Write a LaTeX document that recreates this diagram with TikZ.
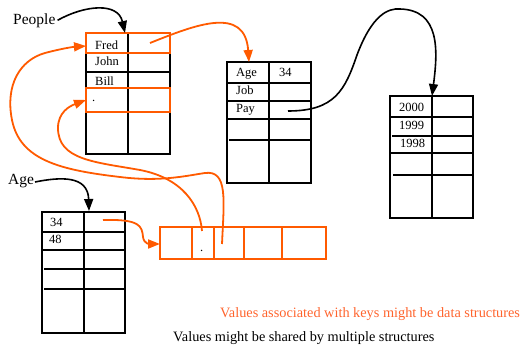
\documentclass[tikz,border=0pt]{standalone}
\usepackage{fontspec}
\setmainfont{Liberation Serif}
\usetikzlibrary{arrows.meta}
\definecolor{org}{RGB}{255,90,0}
\definecolor{orgtext}{RGB}{255,100,45}
\begin{document}
\begin{tikzpicture}[x=1pt,y=-1pt,
  tbl/.style={line width=2pt, black},
  hl/.style={line width=2.4pt, org},
  arr/.style={line width=2pt, org},
  cell/.style={inner sep=0pt, anchor=base west, font=\fontsize{12.5}{14}\selectfont},
  lbl/.style={inner sep=0pt, anchor=base west, font=\fontsize{15.5}{18}\selectfont},
  note/.style={inner sep=0pt, anchor=base west, font=\fontsize{14.3}{17}\selectfont},
  blk/.style={line width=1.6pt, black, -{Triangle[length=12pt,width=9pt]}},
  ora/.style={line width=1.8pt, org, -{Triangle[length=12pt,width=9pt]}},
  ]
\useasboundingbox (0,0) rectangle (523,347);

% People table
\draw[tbl] (86,33) rectangle (170,154);
\draw[tbl] (128,33) -- (128,154);
\foreach \y in {53,72,88,112} \draw[tbl] (86,\y) -- (170,\y);
\draw[hl] (86,33) rectangle (170,53);
\draw[hl] (86,88) rectangle (170,112);

% Age/Job/Pay table
\draw[tbl] (227,62) rectangle (311,183);
\draw[tbl] (269,62) -- (269,183);
\foreach \y in {83,101,119} \draw[tbl] (227,\y) -- (311,\y);
\draw[tbl] (229,140) -- (311,140);

% Year table
\draw[tbl] (390,96) rectangle (473,218);
\draw[tbl] (432,96) -- (432,218);
\foreach \y in {117,153} \draw[tbl] (390,\y) -- (473,\y);
\draw[tbl] (392,136) -- (473,136);
\draw[tbl] (393,175) -- (473,175);

% Age table (bottom left)
\draw[tbl] (42,212) rectangle (125,333);
\draw[tbl] (84,212) -- (84,333);
\foreach \y in {232,250} \draw[tbl] (42,\y) -- (125,\y);
\draw[tbl] (44,269) -- (125,269);
\draw[tbl] (44,289) -- (125,289);

% Orange array
\draw[arr] (160,227) rectangle (326,259);
\foreach \x in {192,214,244,282} \draw[arr] (\x,227) -- (\x,259);

% Texts
\node[lbl] (people) at (13,25) {People};
\node[lbl] (agelbl) at (8,185) {Age};
\node[cell] (fred) at (95,50) {Fred};
\node[cell] (john) at (95,66) {John};
\node[cell] (bill) at (95,86) {Bill};
\node[cell] (dot1) at (92,102) {.};
\node[cell] (age) at (236,77) {Age};
\node[cell] (v34) at (279,77) {34};
\node[cell] (job) at (236,95) {Job};
\node[cell] (pay) at (236,113) {Pay};
\node[cell] (y2000) at (399,112) {2000};
\node[cell] (y1999) at (399,130) {1999};
\node[cell] (y1998) at (400,148) {1998};
\node[cell] (k34) at (50,227) {34};
\node[cell] (k48) at (49,244) {48};
\node[cell] (dot2) at (200,252) {.};
\node[note, text=orgtext] (note1) at (220,318) {Values associated with keys might be data structures};
\node[note] (note2) at (173,342) {Values might be shared by multiple structures};

% Connector end points
\coordinate (peopleT) at (125,33);
\coordinate (fredV) at (150,43);
\coordinate (ageT) at (249,62);
\coordinate (payV) at (288,111);
\coordinate (yearT) at (432,96);
\coordinate (agelblS) at (35,182);
\coordinate (ageTblT) at (89,211);
\coordinate (k34V) at (103,220);
\coordinate (arrT) at (160,244);
\coordinate (c2) at (202,231);
\coordinate (c3) at (222,244);
\coordinate (fredT) at (86,46);
\coordinate (rowT) at (86,100);

% Black connectors
\draw[blk] (people.east) ++(2,-1) .. controls (85,5) and (118,2) .. (peopleT);
\draw[blk] (payV) .. controls (335,111) and (345,90) .. (357,55)
  .. controls (372,15) and (388,8) .. (400,9)
  .. controls (440,10) and (438,50) .. (yearT);
\draw[blk] (agelblS) .. controls (60,177) and (88,175) .. (ageTblT);

% Orange connectors
\draw[ora] (fredV) .. controls (195,25) and (245,5) .. (ageT);
\draw[ora] (k34V) .. controls (140,219) and (142,226) .. (143,237)
  .. controls (144,244) and (150,244) .. (arrT);
\draw[ora] (c2) .. controls (200,205) and (182,178) .. (140,170)
  .. controls (95,162) and (58,160) .. (58,128)
  .. controls (58,112) and (70,106) .. (rowT);
\draw[ora] (c3) .. controls (224,200) and (228,170) .. (205,173)
  .. controls (185,176) and (160,182) .. (120,177)
  .. controls (60,170) and (20,160) .. (12,120)
  .. controls (5,85) and (20,60) .. (45,53)
  .. controls (60,49) and (72,47) .. (fredT);
\end{tikzpicture}
\end{document}
